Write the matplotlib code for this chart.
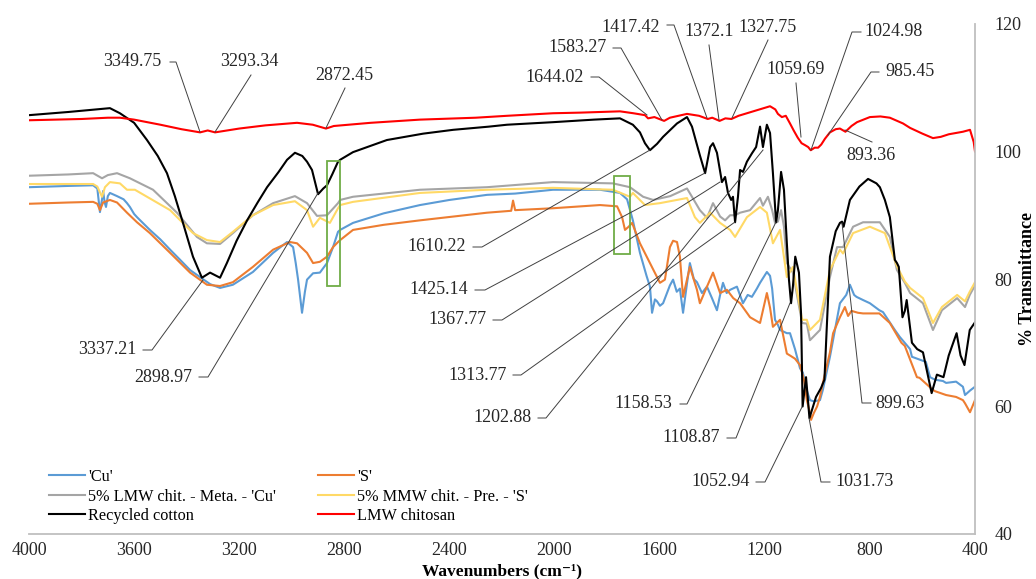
import matplotlib
matplotlib.use('Agg')
import matplotlib.pyplot as plt
from matplotlib.patches import Rectangle
import numpy as np

# ---- data (wavenumber cm-1, % transmittance) ----
cu_wn = [4000, 3850, 3756, 3740, 3730, 3722, 3718, 3712, 3707, 3700, 3692, 3665, 3640, 3627, 3616,
         3600, 3589, 3540, 3500, 3463, 3420, 3387, 3311, 3273, 3224, 3148, 3071, 3018, 2995, 2985,
         2976, 2961, 2950, 2942, 2919, 2893, 2866, 2843, 2824, 2816, 2767, 2650, 2512, 2400, 2257,
         2150, 2006, 1900, 1827, 1751, 1724, 1702, 1675, 1650, 1637, 1629, 1618, 1610, 1599, 1587,
         1561, 1549, 1535, 1523, 1511, 1497, 1485, 1470, 1458, 1439, 1420, 1401, 1382, 1370, 1359,
         1345, 1332, 1306, 1283, 1265, 1249, 1230, 1218, 1192, 1180, 1172, 1161, 1150, 1142, 1116,
         1104, 1085, 1066, 1055, 1040, 1028, 1013, 990, 979, 952, 914, 890, 876, 860, 851, 826, 800,
         764, 750, 705, 686, 647, 640, 587, 571, 552, 522, 510, 472, 446, 438, 419, 400]
cu_t = [94.4, 94.6, 94.7, 94.2, 90.5, 92.5, 93.8, 92.0, 91.3, 93.0, 93.5, 93.0, 92.5, 91.9, 91.3,
        90.2, 89.7, 87.7, 86.2, 84.6, 82.8, 81.4, 79.2, 78.6, 79.1, 81.1, 84.1, 85.8, 85.0, 82.5,
        79.9, 74.7, 78.0, 79.9, 80.9, 81.0, 82.5, 85.0, 87.4, 87.7, 88.8, 90.3, 91.6, 92.4, 93.2,
        93.4, 94.0, 94.0, 94.0, 93.5, 92.5, 89.2, 84.1, 80.5, 78.8, 74.7, 76.8, 76.5, 75.8, 76.2,
        79.0, 79.9, 78.0, 78.5, 74.7, 79.0, 82.5, 80.0, 79.5, 77.8, 78.8, 77.0, 75.1, 77.5, 79.4,
        77.8, 78.3, 78.8, 76.2, 77.5, 77.2, 78.5, 79.4, 81.1, 80.5, 78.5, 73.6, 72.8, 72.0, 71.5,
        71.5, 69.0, 66.0, 65.3, 62.5, 61.0, 60.8, 61.0, 62.6, 67.8, 76.2, 77.5, 79.1, 77.5, 77.2, 76.7, 76.2,
        75.1, 74.8, 72.0, 70.9, 69.0, 67.8, 67.0, 64.6, 64.2, 64.0, 63.7, 63.9, 63.1, 61.8, 62.5, 63.1]

s_wn = [4000, 3850, 3756, 3740, 3730, 3718, 3692, 3665, 3627, 3589, 3540, 3463, 3387, 3323, 3273,
        3224, 3148, 3071, 3007, 2980, 2942, 2919, 2893, 2866, 2843, 2824, 2816, 2767, 2650, 2512,
        2257, 2165, 2158, 2150, 2006, 1827, 1762, 1743, 1732, 1718, 1705, 1675, 1637, 1599, 1580,
        1561, 1549, 1534, 1523, 1511, 1485, 1458, 1447, 1420, 1397, 1370, 1344, 1320, 1294, 1256,
        1218, 1192, 1180, 1169, 1142, 1116, 1104, 1085, 1066, 1050, 1040, 1028, 1024, 1013, 1001,
        990, 979, 952, 940, 914, 895, 883, 870, 845, 826, 764, 724, 680, 667, 621, 611, 560, 552,
        510, 472, 446, 438, 419, 410, 400]
s_t = [91.8, 92.0, 92.1, 91.8, 90.8, 92.0, 92.4, 92.0, 90.4, 88.9, 87.2, 84.1, 81.0, 79.1, 78.9,
       79.5, 81.9, 84.6, 85.8, 85.6, 84.1, 82.5, 82.7, 83.5, 85.0, 85.8, 86.1, 87.7, 88.5, 89.2,
       90.4, 90.7, 92.3, 90.8, 91.1, 91.6, 91.4, 89.7, 87.7, 88.2, 88.8, 85.6, 82.5, 79.4, 79.9,
       85.0, 86.0, 85.8, 83.5, 77.2, 81.9, 78.3, 76.2, 78.8, 81.0, 77.8, 78.3, 77.0, 76.2, 74.0,
       73.1, 77.8, 75.5, 72.5, 73.6, 68.3, 68.0, 67.5, 66.5, 64.0, 61.0, 59.0, 57.9, 59.0, 60.0,
       61.5, 63.7, 68.5, 71.5, 74.0, 75.6, 74.2, 75.0, 74.7, 74.6, 74.6, 73.1, 70.0, 69.5, 64.6, 64.5, 62.6, 62.4,
       61.8, 61.5, 61.0, 60.5, 59.1, 60.0, 61.0]

meta_wn = [4000, 3850, 3756, 3722, 3700, 3665, 3616, 3528, 3437, 3361, 3323, 3273, 3224, 3148, 3071,
           2988, 2942, 2904, 2866, 2824, 2816, 2767, 2512, 2257, 2006, 1778, 1713, 1663, 1625, 1560,
           1496, 1477, 1447, 1420, 1397, 1370, 1351, 1332, 1313, 1294, 1256, 1218, 1207, 1188, 1172,
           1161, 1150, 1138, 1127, 1116, 1093, 1058, 1040, 1028, 990, 952, 925, 902, 864, 826, 762,
           724, 697, 667, 647, 598, 560, 526, 468, 438, 420, 400]
meta_t = [96.2, 96.4, 96.6, 95.8, 96.3, 96.6, 95.8, 94.0, 90.4, 86.6, 85.6, 85.5, 87.2, 90.0, 91.9,
          93.0, 91.9, 89.9, 90.0, 91.9, 92.4, 92.9, 94.0, 94.4, 95.2, 95.0, 94.4, 92.9, 92.4, 93.0,
          94.2, 92.9, 90.8, 89.6, 91.9, 89.8, 89.2, 90.0, 90.0, 90.4, 90.8, 92.7, 91.5, 92.9, 90.8,
          88.8, 89.0, 90.8, 88.2, 82.5, 81.0, 73.1, 73.0, 70.4, 72.0, 80.3, 85.0, 85.0, 88.2, 88.9, 88.9,
          86.6, 81.4, 79.4, 77.8, 76.2, 72.0, 75.1, 77.0, 75.6, 77.5, 79.0]

mmw_wn = [4000, 3850, 3756, 3740, 3722, 3711, 3692, 3654, 3627, 3597, 3551, 3463, 3376, 3323, 3273,
          3224, 3148, 3071, 2988, 2942, 2919, 2893, 2855, 2824, 2816, 2767, 2512, 2257, 2006, 1778,
          1713, 1702, 1656, 1599, 1496, 1466, 1447, 1408, 1370, 1332, 1313, 1268, 1218, 1192, 1169,
          1142, 1116, 1093, 1058, 1040, 1028, 990, 952, 914, 902, 864, 800, 743, 697, 667, 647, 598,
          560, 526, 468, 438, 420, 400]
mmw_t = [94.9, 94.9, 94.9, 94.5, 92.9, 94.4, 95.2, 95.0, 94.0, 94.0, 92.9, 90.8, 87.2, 86.1, 85.8,
         87.4, 90.0, 91.6, 92.2, 90.8, 88.2, 89.6, 88.8, 91.1, 91.6, 92.1, 93.5, 94.0, 94.3, 94.0,
         92.9, 93.5, 91.6, 91.9, 92.7, 89.7, 88.8, 90.4, 88.8, 87.7, 86.6, 89.7, 91.3, 90.4, 85.6,
         87.7, 80.3, 81.9, 73.6, 73.6, 72.0, 73.6, 81.4, 84.6, 84.0, 87.2, 88.2, 87.2, 82.0, 79.6, 78.6, 77.0,
         73.1, 75.6, 77.5, 76.5, 78.0, 79.5]

cotton_wn = [4000, 3850, 3692, 3654, 3600, 3551, 3510, 3475, 3445, 3414, 3376, 3342, 3311, 3273, 3247,
             3210, 3170, 3130, 3094, 3050, 3018, 2988, 2960, 2942, 2923, 2900, 2880, 2866, 2845, 2824,
             2816, 2767, 2638, 2500, 2386, 2250, 2181, 2006, 1850, 1751, 1702, 1675, 1656, 1637, 1610,
             1587, 1534, 1496, 1477, 1447, 1427, 1408, 1397, 1382, 1363, 1351, 1340, 1328, 1321, 1313,
             1302, 1294, 1283, 1268, 1249, 1233, 1218, 1207, 1192, 1180, 1169, 1157, 1150, 1138, 1127,
             1116, 1108, 1100, 1093, 1084, 1070, 1062, 1056, 1043, 1030, 1005, 986, 973, 952, 930, 914,
             906, 900, 876, 840, 807, 775, 762, 743, 724, 705, 697, 690, 676, 667, 660, 640, 620, 598,
             565, 545, 520, 500, 470, 455, 440, 420, 400]
cotton_t = [105.7, 106.2, 106.8, 106.0, 104.5, 101.8, 99.3, 96.6, 93.0, 88.8, 83.5, 80.2, 81.0, 80.2, 82.5,
            86.0, 89.2, 92.0, 94.4, 96.8, 98.7, 99.8, 99.3, 98.4, 97.1, 93.3, 94.2, 94.7, 96.5, 98.4,
            98.7, 99.9, 101.8, 102.8, 103.4, 103.9, 104.2, 104.6, 105.0, 105.2, 104.2, 103.0, 101.3, 100.2, 101.2,
            102.3, 104.4, 105.4, 103.9, 99.4, 96.6, 100.7, 101.3, 99.8, 95.2, 96.0, 93.5, 92.4, 92.9, 88.9,
            92.9, 97.1, 96.8, 98.4, 99.7, 100.7, 103.9, 100.7, 104.2, 102.9, 96.6, 88.9, 90.8, 96.8, 94.0,
            85.6, 79.9, 76.2, 78.8, 83.5, 81.0, 74.6, 60.0, 64.6, 58.2, 61.5, 62.9, 64.2, 83.5, 87.5, 88.8,
            89.0, 88.2, 92.4, 94.5, 95.7, 95.0, 94.4, 92.4, 89.7, 83.0, 82.5, 81.9, 74.0, 75.0, 76.7, 70.0, 69.0, 68.5,
            62.1, 65.0, 64.6, 68.0, 71.5, 68.0, 66.5, 72.0, 73.2]

chit_wn = [4000, 3900, 3800, 3700, 3654, 3600, 3500, 3420, 3349, 3320, 3292, 3200, 3100, 2980, 2920,
           2870, 2840, 2700, 2512, 2300, 2181, 2006, 1900, 1751, 1700, 1656, 1644, 1620, 1583, 1561,
           1496, 1450, 1417, 1400, 1372, 1350, 1327, 1300, 1268, 1220, 1180, 1160, 1150, 1135, 1120,
           1104, 1090, 1075, 1060, 1047, 1035, 1025, 1010, 997, 985, 971, 952, 930, 914, 893, 870,
           849, 800, 760, 724, 674, 647, 600, 560, 530, 500, 446, 419, 405, 400]
chit_t = [104.9, 105.0, 105.1, 105.3, 105.3, 105.0, 104.2, 103.5, 103.0, 103.3, 103.0, 103.6, 104.1, 104.5, 104.2,
          103.6, 104.0, 104.5, 105.0, 105.3, 105.6, 106.0, 106.1, 106.3, 106.0, 105.7, 105.2, 105.4, 104.8, 105.3,
          105.9, 105.6, 105.1, 105.3, 104.8, 105.2, 105.1, 105.6, 106.0, 106.6, 107.1, 106.6, 105.9, 105.4, 105.6,
          104.4, 103.3, 102.2, 101.3, 101.0, 100.7, 100.2, 100.6, 100.6, 101.1, 102.0, 103.0, 103.5, 103.6, 103.1, 104.0,
          104.6, 105.4, 105.5, 105.3, 104.4, 103.7, 102.8, 102.1, 102.3, 102.7, 103.1, 103.4, 101.5, 100.0]

series = [
    (cu_wn, cu_t, "'Cu'", '#5B9BD5'),
    (s_wn, s_t, "'S'", '#ED7D31'),
    (meta_wn, meta_t, "5% LMW chit. - Meta. - 'Cu'", '#A5A5A5'),
    (mmw_wn, mmw_t, "5% MMW chit. - Pre. - 'S'", '#FFD966'),
    (cotton_wn, cotton_t, 'Recycled cotton', '#000000'),
    (chit_wn, chit_t, 'LMW chitosan', '#FF0000'),
]

x_ticks = [4000, 3600, 3200, 2800, 2400, 2000, 1600, 1200, 800, 400]
y_ticks = [40, 60, 80, 100, 120]

# peak labels: text, text centre (px), leader path (px) ending on the peak
labels = [
    ('3349.75', 132, 62, [(170, 62), (176, 62), (200, 132)]),
    ('3293.34', 249, 62, [(251, 75), (215, 132)]),
    ('2872.45', 344, 75, [(345, 88), (326, 128)]),
    ('3337.21', 107, 350, [(143, 350), (152, 350), (203, 280)]),
    ('2898.97', 163, 377, [(199, 377), (208, 377), (318, 193)]),
    ('1610.22', 437, 247, [(473, 247), (482, 247), (650, 150)]),
    ('1425.14', 439, 290, [(475, 290), (485, 290), (705, 173)]),
    ('1367.77', 457, 320, [(493, 320), (502, 320), (720, 182)]),
    ('1313.77', 478, 375, [(513, 375), (521, 375), (735, 222)]),
    ('1202.88', 502, 418, [(538, 418), (546, 418), (763, 150)]),
    ('1158.53', 643, 404, [(680, 404), (687, 404), (776, 222)]),
    ('1108.87', 691, 438, [(727, 438), (736, 438), (790, 303)]),
    ('1052.94', 721, 482, [(756, 482), (765, 482), (802, 407)]),
    ('1031.73', 865, 482, [(830, 482), (821, 482), (809, 418)]),
    ('899.63', 900, 403, [(871, 403), (862, 403), (842, 223)]),
    ('1644.02', 555, 77, [(591, 77), (599, 77), (647, 115)]),
    ('1583.27', 578, 48, [(613, 48), (621, 48), (662, 120)]),
    ('1417.42', 631, 27, [(667, 25), (674, 25), (707, 118)]),
    ('1372.1', 709, 32, [(709, 45), (719, 120)]),
    ('1327.75', 768, 27, [(768, 40), (732, 118)]),
    ('1059.69', 796, 69, [(796, 83), (801, 137)]),
    ('1024.98', 894, 32, [(861, 32), (852, 32), (811, 150)]),
    ('985.45', 910, 72, [(879, 72), (871, 72), (828, 135)]),
    ('893.36', 871, 155, [(872, 142), (845, 130)]),
]

# highlighted regions (wavenumber span, transmittance span)
boxes = [((2866, 2816), (78.9, 98.5)), ((1772, 1711), (83.9, 96.2))]

W, H = 1036, 579
L, R, T, B = 29, 975, 24, 534
XMIN, XMAX, YMIN, YMAX = 4000, 400, 40, 120


def px2data(px, py):
    return (XMIN + (px - L) * (XMAX - XMIN) / (R - L),
            YMAX - (py - T) * (YMAX - YMIN) / (B - T))


plt.rcParams['font.family'] = ['Liberation Serif', 'DejaVu Serif']

fig = plt.figure(figsize=(W / 100, H / 100), dpi=100)
ax = fig.add_axes([L / W, 1 - B / H, (R - L) / W, (B - T) / H])

for wn, t, name, col in series:
    ax.plot(wn, t, color=col, lw=1.5, label=name)

for (x0, x1), (y0, y1) in boxes:
    ax.add_patch(Rectangle((x0, y0), x1 - x0, y1 - y0, fill=False,
                           edgecolor='#70AD47', lw=1.3, zorder=5))

for text, tx, ty, path in labels:
    x, y = px2data(tx, ty)
    ax.text(x, y, text, ha='center', va='center', fontsize=13, color='#262626', zorder=6)
    pts = [px2data(*p) for p in path]
    ax.plot([p[0] for p in pts], [p[1] for p in pts], color='#404040', lw=0.7,
            clip_on=False, zorder=6)

ax.set_xlim(XMIN, XMAX)
ax.set_ylim(YMIN, YMAX)
ax.set_xticks(x_ticks)
ax.set_yticks(y_ticks)
ax.yaxis.tick_right()
ax.tick_params(length=0, labelsize=13, colors='#262626')
ax.tick_params(axis='x', pad=6)
ax.tick_params(axis='y', pad=14)
for side in ['top', 'left']:
    ax.spines[side].set_visible(False)
for side in ['bottom', 'right']:
    ax.spines[side].set_color('#BFBFBF')
    ax.spines[side].set_linewidth(1.3)

fig.text(502 / W, 1 - 575 / H, 'Wavenumbers (cm\u207b\u00b9)', ha='center', va='baseline',
         fontsize=12.5, fontweight='bold')
fig.text(1028 / W, 1 - 279 / H, '% Transmittance', ha='center', va='center',
         fontsize=13, fontweight='bold', rotation=90)

h, l = ax.get_legend_handles_labels()
order = [0, 2, 4, 1, 3, 5]
ax.legend([h[i] for i in order], [l[i] for i in order], ncol=2, frameon=False,
          loc='upper left', bbox_to_anchor=(49 / W, 1 - 469 / H), bbox_transform=fig.transFigure,
          borderpad=0, borderaxespad=0, fontsize=11.7, handlelength=2.2, handletextpad=0.2,
          columnspacing=2.6, labelspacing=0.22)

fig.savefig('out.png', dpi=100)
